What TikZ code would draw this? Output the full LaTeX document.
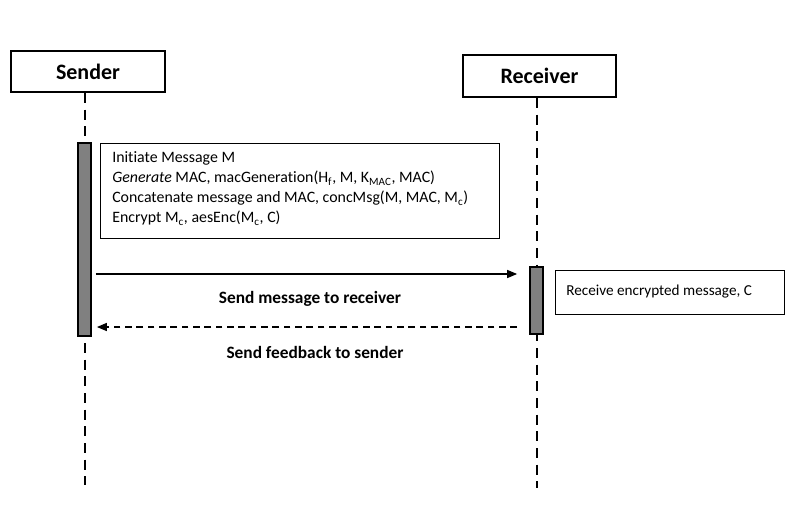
\documentclass[tikz,border=0pt]{standalone}
\usepackage{fontspec}
\setmainfont[Ligatures=NoCommon]{Carlito}
\usetikzlibrary{arrows.meta,calc}
\begin{document}
\begin{tikzpicture}[x=0.75pt,y=-0.75pt,
  actor/.style={draw,line width=1.5pt,fill=white,inner sep=0pt,font=\fontsize{16.5}{18}\selectfont\bfseries},
  lifeline/.style={line width=1.5pt,dash pattern=on 7.5pt off 5pt},
  actbar/.style={draw,line width=1.3pt,fill=black!50,inner sep=0pt,minimum width=9.75pt},
  note/.style={draw,line width=0.75pt,inner sep=0pt},
  notetext/.style={inner sep=0pt,align=left,font=\fontsize{11.9}{15}\selectfont},
  lbl/.style={inner sep=0pt,font=\fontsize{13}{15}\selectfont\bfseries},
  msg/.style={line width=1.1pt,-{Triangle[length=7.5pt,width=6pt]}},
  reply/.style={line width=1.1pt,dash pattern=on 5pt off 3.5pt,-{Triangle[length=7.5pt,width=6pt]}}
]
\useasboundingbox (0,0) rectangle (798,507);
% lifeline ends
\coordinate (sl) at (85,485);
\coordinate (rl) at (537,488);
% actors
\node[actor,minimum width=115.5pt,minimum height=30.75pt] (s) at (88,71.5) {Sender};
\node[actor,minimum width=114.75pt,minimum height=31.5pt] (r) at (539.5,76) {Receiver};
\draw[lifeline] (s.south -| sl) -- (sl);
\draw[lifeline] (r.south -| rl) -- (rl);
% activation bars
\node[actbar,minimum height=144.75pt] (sact) at (84.5,239.5) {};
\node[actbar,minimum height=50.25pt] (ract) at (536.5,300.5) {};
% note boxes
\node[note,minimum width=299.25pt,minimum height=71.25pt] (n1) at (299.5,190.5) {};
\node[notetext,anchor=north west] (n1t) at (112,151.5) {Initiate Message M\\
\textit{Generate} MAC, macGeneration(H\textsubscript{f}, M, K\textsubscript{MAC}, MAC)\\
Concatenate message and MAC, concMsg(M, MAC, M\textsubscript{c})\\
Encrypt M\textsubscript{c}, aesEnc(M\textsubscript{c}, C)};
\node[note,minimum width=171.75pt,minimum height=33pt] (n2) at (669.5,292) {};
\node[notetext,anchor=west,font=\fontsize{11.4}{14}\selectfont] (n2t) at (566,292) {Receive encrypted message, C};
% messages
\coordinate (m1) at (0,274);
\coordinate (m2) at (0,327);
\draw[msg] ($(sact.east|-m1)+(4,0)$) -- ($(ract.west|-m1)+(-12,0)$);
\draw[reply] ($(ract.west|-m2)+(-12,0)$) -- ($(sact.east|-m2)+(5,0)$);
\node[lbl] (l1) at (310,299) {Send message to receiver};
\node[lbl] (l2) at (315,352.5) {Send feedback to sender};
\end{tikzpicture}
\end{document}
